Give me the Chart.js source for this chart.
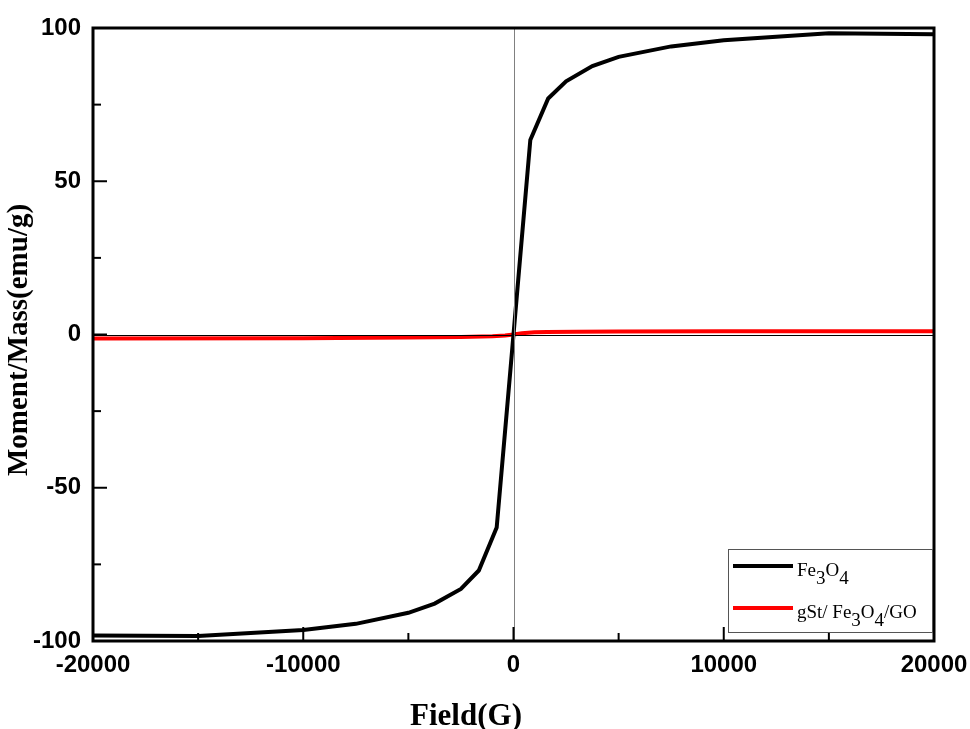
<!DOCTYPE html>
<html>
<head>
<meta charset="utf-8">
<script src="https://cdn.jsdelivr.net/npm/chart.js@4.4.1/dist/chart.umd.min.js"></script>
<style>
  html, body { margin: 0; padding: 0; background: #fff; }
  #wrap { width: 970px; height: 729px; }
</style>
</head>
<body>
<div id="wrap"><canvas id="c"></canvas></div>
<script>
// series data
var feField  = [-20000, -15000, -10000, -7500, -5000, -3750, -2500, -1650, -800, 0, 800, 1650, 2500, 3750, 5000, 7500, 10000, 15000, 20000];
var feMoment = [-98.2, -98.4, -96.4, -94.4, -90.8, -87.8, -83, -77, -63, 0, 63.5, 77, 82.6, 87.6, 90.6, 94, 96, 98.3, 98];

var gsField  = [-20000, -10000, -5000, -2500, -1000, -400, 0, 400, 1000, 1600, 3000, 5000, 10000, 20000];
var gsMoment = [-1.3, -1.2, -1.0, -0.8, -0.55, -0.3, 0, 0.4, 0.7, 0.85, 0.9, 0.95, 1.05, 1.1];

var seriesNames  = ['Fe3O4', 'gSt/ Fe3O4/GO'];
var seriesColors = ['#000000', '#ff0000'];

var xTicks = [-20000, -10000, 0, 10000, 20000];
var yTicks = [-100, -50, 0, 50, 100];

var xTitle = 'Field(G)';
var yTitle = 'Moment/Mass(emu/g)';

function toPoints(xs, ys) {
  return xs.map(function (x, i) { return { x: x, y: ys[i] }; });
}

Chart.defaults.font.family = '"Liberation Sans", Arial, sans-serif';
Chart.defaults.color = '#000';

var serif = '"Liberation Serif", "Times New Roman", serif';

// inward ticks, frame, zero lines, legend, axis titles
var decor = {
  id: 'decor',
  afterDatasetsDraw: function (chart) {
    var ctx = chart.ctx, a = chart.chartArea;
    var xs = chart.scales.x, ys = chart.scales.y;
    ctx.save();

    // zero lines
    ctx.lineWidth = 1;
    ctx.strokeStyle = '#000';
    var y0 = Math.round(ys.getPixelForValue(0)) + 0.5;
    ctx.beginPath(); ctx.moveTo(a.left, y0); ctx.lineTo(a.right, y0); ctx.stroke();
    ctx.strokeStyle = '#808080';
    var x0 = Math.round(xs.getPixelForValue(0)) + 0.5;
    ctx.beginPath(); ctx.moveTo(x0, a.top); ctx.lineTo(x0, a.bottom); ctx.stroke();

    // ticks inward
    ctx.strokeStyle = '#000';
    ctx.lineWidth = 2;
    var i, p, v;
    for (i = 0; i < yTicks.length; i++) {
      p = ys.getPixelForValue(yTicks[i]);
      ctx.beginPath(); ctx.moveTo(a.left, p); ctx.lineTo(a.left + 14, p); ctx.stroke();
      if (i < yTicks.length - 1) {
        v = (yTicks[i] + yTicks[i + 1]) / 2;
        p = ys.getPixelForValue(v);
        ctx.beginPath(); ctx.moveTo(a.left, p); ctx.lineTo(a.left + 8, p); ctx.stroke();
      }
    }
    for (i = 0; i < xTicks.length; i++) {
      p = xs.getPixelForValue(xTicks[i]);
      ctx.beginPath(); ctx.moveTo(p, a.bottom); ctx.lineTo(p, a.bottom - 14); ctx.stroke();
      if (i < xTicks.length - 1) {
        v = (xTicks[i] + xTicks[i + 1]) / 2;
        p = xs.getPixelForValue(v);
        ctx.beginPath(); ctx.moveTo(p, a.bottom); ctx.lineTo(p, a.bottom - 8); ctx.stroke();
      }
    }

    // frame
    ctx.lineWidth = 3;
    ctx.strokeRect(a.left, a.top, a.right - a.left, a.bottom - a.top);

    // legend box
    var bx = a.right - 206, by = a.bottom - 92, bw = 204, bh = 83;
    ctx.fillStyle = '#fff';
    ctx.fillRect(bx, by, bw, bh);
    ctx.lineWidth = 1;
    ctx.strokeStyle = '#555';
    ctx.strokeRect(bx + 0.5, by + 0.5, bw, bh);

    for (i = 0; i < seriesNames.length; i++) {
      var ly = by + 17 + i * 42;
      ctx.strokeStyle = seriesColors[i];
      ctx.lineWidth = 4;
      ctx.beginPath(); ctx.moveTo(bx + 5, ly); ctx.lineTo(bx + 65, ly); ctx.stroke();
      drawSubText(ctx, seriesNames[i], bx + 69, ly + 10);
    }

    // axis titles
    ctx.fillStyle = '#000';
    ctx.font = 'bold 31px ' + serif;
    ctx.textAlign = 'center';
    ctx.textBaseline = 'alphabetic';
    ctx.fillText(xTitle, a.left + 373, 725);

    ctx.translate(20, a.top + 312);
    ctx.rotate(-Math.PI / 2);
    ctx.font = 'bold 29px ' + serif;
    ctx.textBaseline = 'middle';
    ctx.fillText(yTitle, 0, 0);
    ctx.restore();
  }
};

// digits after letters become subscripts
function drawSubText(ctx, txt, x, y) {
  ctx.fillStyle = '#000';
  ctx.textBaseline = 'alphabetic';
  ctx.textAlign = 'left';
  var parts = txt.match(/\d+|\D+/g);
  for (var k = 0; k < parts.length; k++) {
    var sub = /^\d+$/.test(parts[k]);
    ctx.font = '19px ' + serif;
    ctx.fillText(parts[k], x, sub ? y + 8 : y);
    x += ctx.measureText(parts[k]).width;
  }
}

new Chart(document.getElementById('c'), {
  type: 'scatter',
  data: {
    datasets: [
      {
        label: seriesNames[0],
        data: toPoints(feField, feMoment),
        showLine: true,
        borderColor: seriesColors[0],
        borderWidth: 4,
        pointRadius: 0,
        tension: 0
      },
      {
        label: seriesNames[1],
        data: toPoints(gsField, gsMoment),
        showLine: true,
        borderColor: seriesColors[1],
        borderWidth: 4,
        pointRadius: 0,
        tension: 0
      }
    ]
  },
  options: {
    responsive: true,
    maintainAspectRatio: false,
    animation: false,
    layout: { padding: { top: 28, right: 36, left: 0, bottom: 0 } },
    plugins: { legend: { display: false }, tooltip: { enabled: false } },
    scales: {
      x: {
        min: -20000, max: 20000,
        afterFit: function (s) { s.height = 88; s.paddingLeft = 0; s.paddingRight = 0; },
        afterBuildTicks: function (s) { s.ticks = xTicks.map(function (v) { return { value: v }; }); },
        grid: { display: false, drawTicks: false },
        border: { display: false },
        ticks: {
          padding: 10,
          maxRotation: 0,
          font: { size: 24, weight: 'bold' },
          color: '#000',
          callback: function (v) { return String(v); }
        }
      },
      y: {
        min: -100, max: 100,
        afterFit: function (s) { s.width = 93; s.paddingTop = 0; s.paddingBottom = 0; },
        afterBuildTicks: function (s) { s.ticks = yTicks.map(function (v) { return { value: v }; }); },
        grid: { display: false, drawTicks: false },
        border: { display: false },
        ticks: {
          padding: 12,
          font: { size: 24, weight: 'bold' },
          color: '#000',
          callback: function (v) { return String(v); }
        }
      }
    }
  },
  plugins: [decor]
});
</script>
</body>
</html>
